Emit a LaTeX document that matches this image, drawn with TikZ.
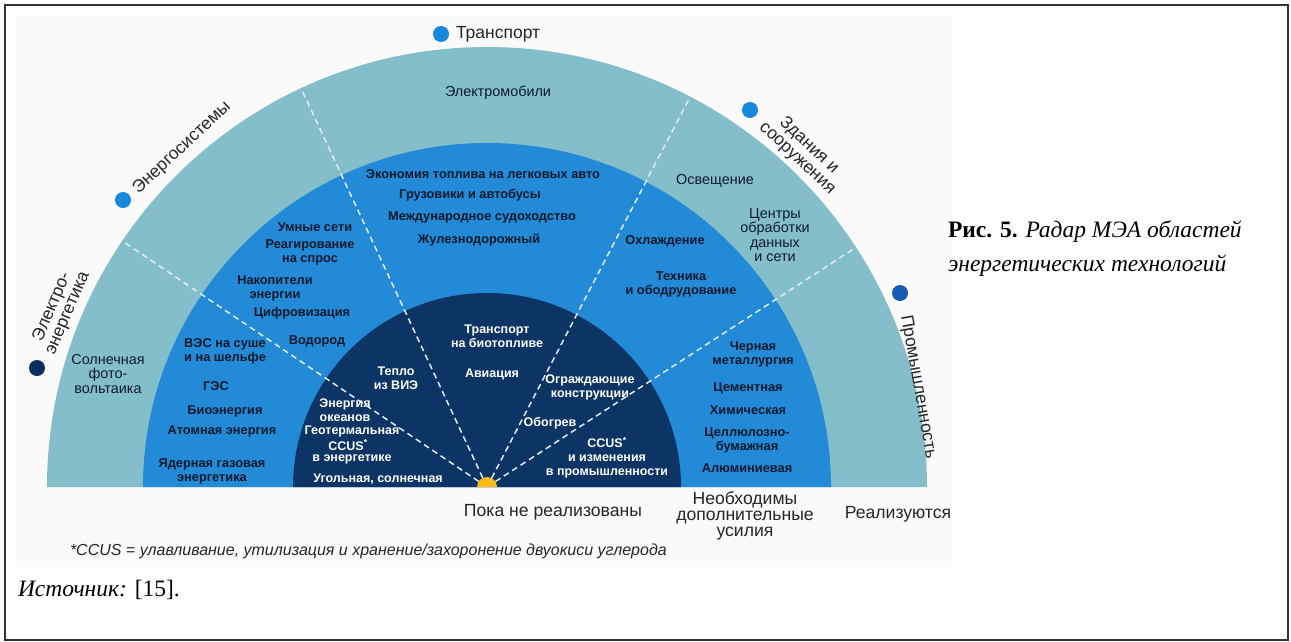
\documentclass[tikz,border=0pt]{standalone}
\usepackage{fontspec}
\setmainfont{Liberation Serif}
\setsansfont{Liberation Sans}
\usetikzlibrary{calc}
\newcommand\myfs[2]{\fontsize{#1}{#2}\selectfont}
\definecolor{bandL}{RGB}{132,190,202}
\definecolor{bandM}{RGB}{34,138,214}
\definecolor{bandD}{RGB}{12,52,100}
\definecolor{dotM}{RGB}{22,136,222}
\definecolor{dotD}{RGB}{10,45,95}
\definecolor{dotI}{RGB}{20,92,178}
\definecolor{txtD}{RGB}{12,25,45}
\definecolor{sun}{RGB}{250,188,20}
\definecolor{bgpic}{RGB}{250,250,250}
\definecolor{dashc}{RGB}{225,236,248}
\begin{document}
\begin{tikzpicture}[x=1pt,y=-1pt,
  every node/.style={inner sep=0pt, outer sep=0pt},
  bandtxt/.style={font=\sffamily\myfs{14.4}{14.5}, text=txtD, align=center},
  midtxt/.style={font=\sffamily\bfseries\myfs{12.8}{14}, text=txtD, align=center},
  darktxt/.style={font=\sffamily\bfseries\myfs{12.5}{14}, text=white, align=center},
  cattxt/.style={font=\sffamily\myfs{17.5}{17}, text=black!85, align=center},
  bottxt/.style={font=\sffamily\myfs{17.6}{16}, text=black!85, align=center},
  dashline/.style={draw=dashc, dash pattern=on 6pt off 4pt, line width=1.5pt},
  catdot/.style={circle, minimum size=16pt, inner sep=0pt}
]
\useasboundingbox (0,0) rectangle (1291,641);
\fill[white] (0,0) rectangle (1291,641);
\fill[bgpic] (15,15) rectangle (953,567);
\draw[line width=1.8pt, black!80] (5,5) rectangle (1288,640);

\coordinate (C) at (487,487);
\fill[bandL] (C) ++(-440,0) arc[start angle=180,end angle=360,radius=440] -- cycle;
\fill[bandM] (C) ++(-344,0) arc[start angle=180,end angle=360,radius=344] -- cycle;
\fill[bandD] (C) ++(-194,0) arc[start angle=180,end angle=360,radius=194] -- cycle;

% sector boundaries
\coordinate (e1) at ($(C)+(-146:437)$);
\coordinate (e2) at ($(C)+(-115:437)$);
\coordinate (e3) at ($(C)+(-62.5:437)$);
\coordinate (e4) at ($(C)+(-33:437)$);
\draw[dashline] (C) -- (e1);
\draw[dashline] (C) -- (e2);
\draw[dashline] (C) -- (e3);
\draw[dashline] (C) -- (e4);
\fill[sun] (C) ++(-10,0) arc[start angle=180,end angle=360,radius=10] -- cycle;

% category dots and labels
\node[catdot, fill=dotD] (d1) at (37,368) {};
\node[catdot, fill=dotM] (d2) at (123,200) {};
\node[catdot, fill=dotM] (d3) at (441,34) {};
\node[catdot, fill=dotM] (d4) at (750,110) {};
\node[catdot, fill=dotI] (d5) at (900,293) {};
\node[cattxt, rotate=67] (k1) at (60,310) {Электро-\\энергетика};
\node[cattxt, rotate=43] (k2) at (182,148) {Энергосистемы};
\node[cattxt, anchor=west] (k3) at (456,34) {Транспорт};
\node[cattxt, rotate=-43] (k4) at (803,152) {Здания и\\сооружения};
\node[cattxt, rotate=-80] (k5) at (918,387) {Промышленность};

% outer band
\node[bandtxt] (o1) at (498,93) {Электромобили};
\node[bandtxt] (o2) at (108,374) {Солнечная\\фото-\\вольтаика};
\node[bandtxt] (o3) at (715,181) {Освещение};
\node[bandtxt] (o4) at (775,235) {Центры\\обработки\\данных\\и сети};

% middle band
\node[midtxt] (m1) at (483,174) {Экономия топлива на легковых авто};
\node[midtxt] (m2) at (470,195) {Грузовики и автобусы};
\node[midtxt] (m3) at (482,217) {Международное судоходство};
\node[midtxt] (m4) at (479,240) {Жулезнодорожный};
\node[midtxt] (m5) at (315,227) {Умные сети};
\node[midtxt] (m6) at (310,252) {Реагирование\\на спрос};
\node[midtxt] (m7) at (275,288) {Накопители\\энергии};
\node[midtxt] (m8) at (302,313) {Цифровизация};
\node[midtxt] (m9) at (317,341) {Водород};
\node[midtxt] (m10) at (225,351) {ВЭС на суше\\и на шельфе};
\node[midtxt] (m11) at (216,386) {ГЭС};
\node[midtxt] (m12) at (225,411) {Биоэнергия};
\node[midtxt] (m13) at (222,431) {Атомная энергия};
\node[midtxt] (m14) at (212,471) {Ядерная газовая\\энергетика};
\node[midtxt] (m15) at (665,241) {Охлаждение};
\node[midtxt] (m16) at (681,284) {Техника\\и ободрудование};
\node[midtxt] (m17) at (753,354) {Черная\\металлургия};
\node[midtxt] (m18) at (748,388) {Цементная};
\node[midtxt] (m19) at (748,410) {Химическая};
\node[midtxt] (m20) at (747,440) {Целлюлозно-\\бумажная};
\node[midtxt] (m21) at (747,468) {Алюминиевая};

% dark core
\node[darktxt] (c1) at (497,336) {Транспорт\\на биотопливе};
\node[darktxt] (c2) at (492,374) {Авиация};
\node[darktxt] (c3) at (396,378) {Тепло\\из ВИЭ};
\node[darktxt] (c4) at (345,410) {Энергия\\океанов};
\node[darktxt] (c5) at (352,431) {Геотермальная};
\node[darktxt] (c6) at (348,445) {CCUS\textsuperscript{*}};
\node[darktxt] (c7) at (352,459) {в энергетике};
\node[darktxt] (c8) at (378,479) {Угольная, солнечная};
\node[darktxt] (c9) at (590,387) {Ограждающие\\конструкции};
\node[darktxt] (c10) at (550,423) {Обогрев};
\node[darktxt] (c11) at (607,458) {CCUS\textsuperscript{*}\\и изменения\\в промышленности};

% bottom labels
\node[bottxt] (b1) at (553,512) {Пока не реализованы};
\node[bottxt] (b2) at (745,516) {Необходимы\\дополнительные\\усилия};
\node[bottxt] (b3) at (898,514) {Реализуются};

\node[font=\sffamily\itshape\myfs{16}{17}, text=black!85, anchor=west] (fn) at (70,551) {*CCUS = улавливание, утилизация и хранение/захоронение двуокиси углерода};
\node[font=\myfs{23.5}{26}, anchor=west] (src) at (18,590) {\textit{Источник:} [15].};
\node[font=\myfs{23.5}{34}, anchor=west, align=left] (cap) at (948,249) {\textbf{Рис. 5.} \textit{Радар МЭА областей}\\\textit{энергетических технологий}};
\end{tikzpicture}
\end{document}
